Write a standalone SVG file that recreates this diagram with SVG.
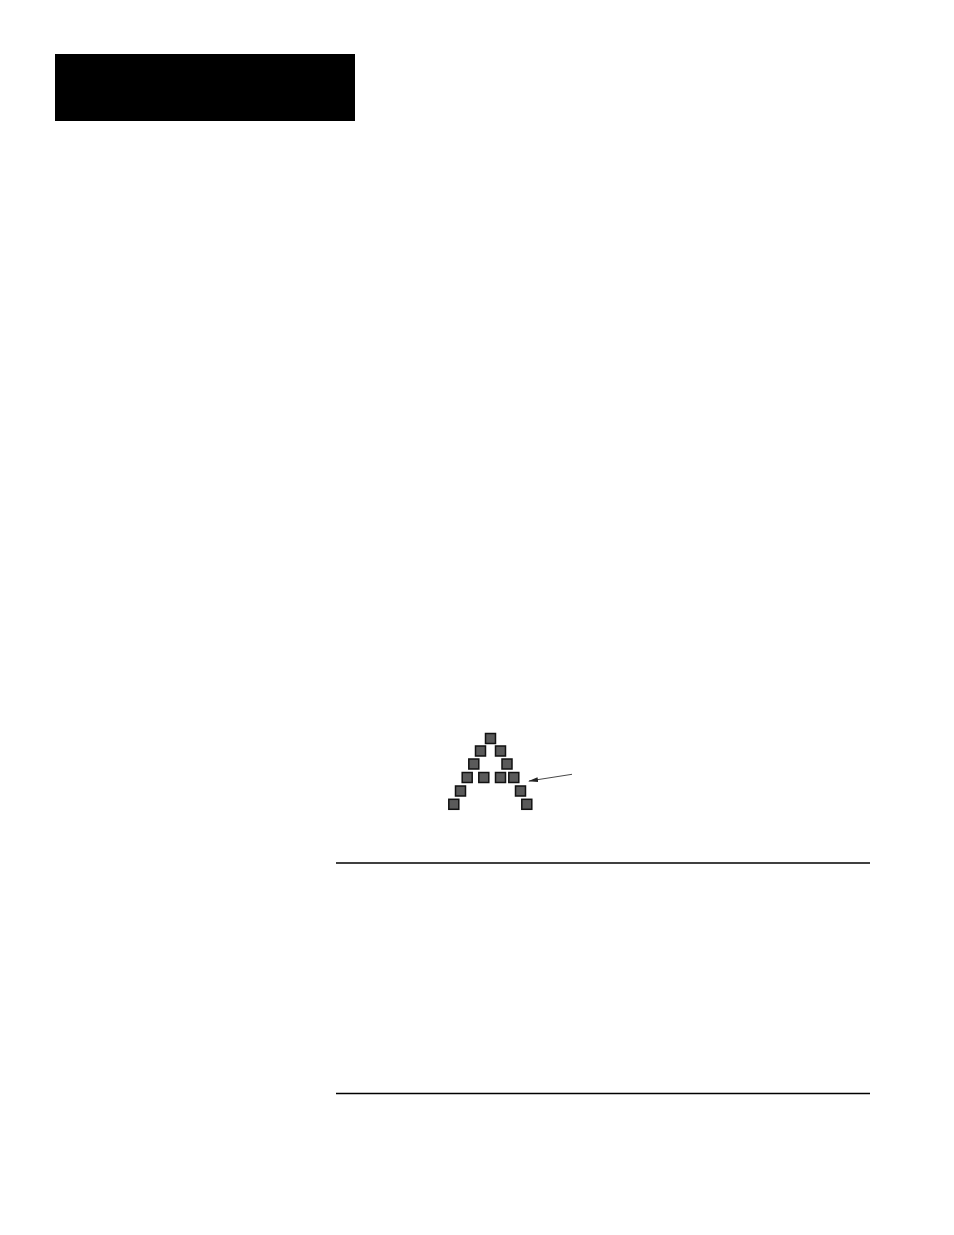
<svg xmlns="http://www.w3.org/2000/svg" width="954" height="1235" viewBox="0 0 954 1235">
<style>
.sq{fill:#5a5a5a;stroke:#111;stroke-width:1.5}
.rule{stroke:#000;stroke-width:1.3}
.arr{stroke:#333;stroke-width:0.9;fill:none}
</style>
<defs>
<marker id="ah" markerWidth="10" markerHeight="6" refX="9" refY="3" orient="auto" markerUnits="userSpaceOnUse">
<path d="M0,0.5 L10,3 L0,5.5 Z" fill="#222"/>
</marker>
</defs>
<rect id="header" x="55" y="54" width="300" height="67" fill="#000"/>
<g id="pattern">
<rect class="sq" x="485.5" y="733.5" width="10" height="10"/>
<rect class="sq" x="475.5" y="746" width="10" height="10"/>
<rect class="sq" x="495.5" y="746" width="10" height="10"/>
<rect class="sq" x="468.8" y="759" width="10" height="10"/>
<rect class="sq" x="502" y="759" width="10" height="10"/>
<rect class="sq" x="462.2" y="772.5" width="10" height="10"/>
<rect class="sq" x="478.8" y="772.5" width="10" height="10"/>
<rect class="sq" x="495.5" y="772.5" width="10" height="10"/>
<rect class="sq" x="508.8" y="772.5" width="10" height="10"/>
<rect class="sq" x="455.5" y="786" width="10" height="10"/>
<rect class="sq" x="515.5" y="786" width="10" height="10"/>
<rect class="sq" x="448.8" y="799.3" width="10" height="10"/>
<rect class="sq" x="521.8" y="799.3" width="10" height="10"/>
</g>
<g id="connectors">
<line class="arr" x1="572" y1="774.3" x2="529" y2="781" marker-end="url(#ah)"/>
</g>
<line class="rule" x1="336" y1="863" x2="870" y2="863"/>
<line class="rule" x1="336" y1="1093.5" x2="870" y2="1093.5"/>
</svg>
